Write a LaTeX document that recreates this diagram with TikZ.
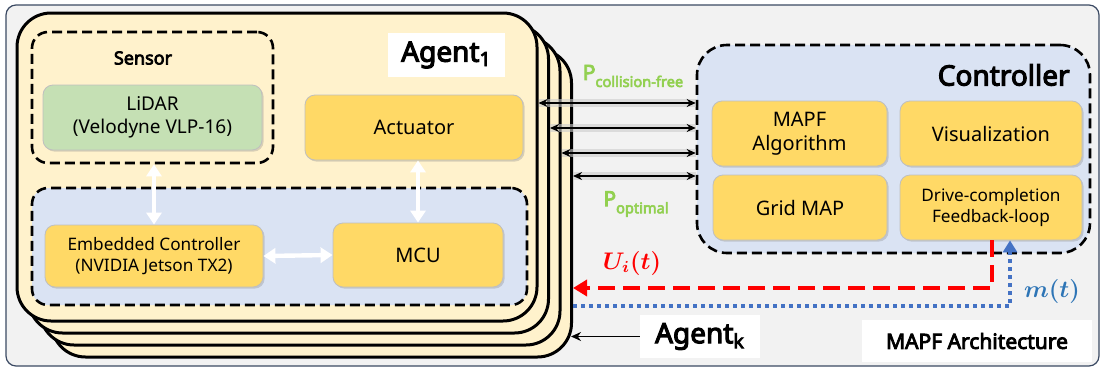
\documentclass[tikz,border=0pt]{standalone}
\usepackage{fontspec}
\setmainfont{Noto Sans}[AutoFakeBold=4]
\usepackage{bm}
\usepackage{tikz}
\usetikzlibrary{arrows.meta,shadows,positioning,calc}

\definecolor{bgfill}{HTML}{F2F2F2}
\definecolor{bgline}{HTML}{3B4A63}
\definecolor{cardfill}{HTML}{FFF2CC}
\definecolor{unitfill}{HTML}{FFD966}
\definecolor{lidarfill}{HTML}{C5E0B4}
\definecolor{zonefill}{HTML}{DAE3F3}
\definecolor{pgreen}{HTML}{92D050}
\definecolor{ured}{HTML}{FF0000}
\definecolor{mblue}{HTML}{4472C4}
\definecolor{mtext}{HTML}{2E75B6}

\newcommand{\lowtext}[2]{\raisebox{-#1}{\fontsize{7.3}{8}\selectfont #2}}

\begin{document}
\begin{tikzpicture}[x=0.5pt,y=-0.5pt,inner sep=0pt,
  card/.style={draw=black,line width=1.5pt,fill=cardfill,rounded corners=17pt,
    minimum width=260pt,minimum height=154pt},
  zone/.style={draw=black,line width=1.3pt,dash pattern=on 5pt off 2.5pt,rounded corners=8pt},
  unit/.style={draw=black!25,fill=unitfill,rounded corners=5pt,align=center,
    drop shadow={shadow xshift=0.8pt,shadow yshift=-0.8pt,opacity=0.3},
    font=\fontsize{10}{12}\selectfont},
  small/.style={font=\fontsize{8.6}{10.5}\selectfont},
  tag/.style={fill=white,font=\bfseries\fontsize{14}{15}\selectfont},
  whitearrow/.style={draw=white,line width=2.2pt,{Triangle[length=6pt,width=7.5pt]}-{Triangle[length=6pt,width=7.5pt]}},
  halo/.style={draw=black!20,line width=4pt,opacity=0.6},
  biarrow/.style={draw=black,line width=1pt,{Stealth[length=4.5pt,width=4pt]}-{Stealth[length=4.5pt,width=4pt]}},
  plabel/.style={text=pgreen,font=\bfseries\fontsize{10.5}{12}\selectfont}]
\useasboundingbox (0,0) rectangle (1104,370);
\draw[fill=bgfill,draw=bgline,line width=0.6pt,rounded corners=5pt] (6,5) rectangle (1099,366);

\foreach \k in {3,2,1,0}
  \node[card] (card\k) at ({277+11.5*\k},{167+12*\k}) {};

\node[zone,minimum width=120.5pt,minimum height=65.5pt] (sensor) at (152.5,97.5) {};
\node[zone,fill=zonefill,minimum width=247.5pt,minimum height=58.5pt] (onboard) at (279.5,246.5) {};
\node[font=\bfseries\fontsize{9}{10}\selectfont] (sensorlbl) at (143,58) {Sensor};
\node[tag,minimum width=58.5pt,minimum height=22pt] (agent1) at (446.5,55) {Agent\textsubscript{1}};

\node[unit,fill=lidarfill,minimum width=109.5pt,minimum height=32.5pt,font=\fontsize{9.5}{11.5}\selectfont] (lidar) at (152.5,117.5) {LiDAR\\(Velodyne VLP-16)};
\node[unit,minimum width=109pt,minimum height=32.5pt] (act) at (414,127.5) {Actuator};
\node[unit,small,minimum width=109pt,minimum height=31pt] (emb) at (154,256) {Embedded Controller\\(NVIDIA Jetson TX2)};
\node[unit,minimum width=85pt,minimum height=32pt] (mcu) at (418,255) {MCU};

\draw[whitearrow] (sensor.south -| emb.north) -- (emb.north);
\draw[whitearrow] (act.south -| mcu.north) -- (mcu.north);
\draw[whitearrow] (emb.east) -- (mcu.west);

\node[zone,fill=zonefill,rounded corners=15pt,minimum width=196.5pt,minimum height=104pt] (ctrl) at (893.5,149) {};
\node[anchor=east,font=\bfseries\fontsize{14}{15}\selectfont] (ctrllbl) at (1070,75) {Controller};
\node[unit,minimum width=87.5pt,minimum height=32.5pt] (alg) at (799.5,133.5) {MAPF\\Algorithm};
\node[unit,minimum width=91pt,minimum height=32.5pt] (vis) at (991,133.5) {Visualization};
\node[unit,minimum width=87pt,minimum height=32.5pt] (grid) at (800,207.5) {Grid MAP};
\node[unit,small,minimum width=91pt,minimum height=32.5pt] (drive) at (991,207.5) {Drive-completion\\Feedback-loop};

\foreach \k/\y in {0/103,1/128,2/153,3/176} {
  \coordinate (lev\k) at (0,\y);
  \draw[halo] (card\k.east |- lev\k) -- (ctrl.west |- lev\k);
  \draw[biarrow] (card\k.east |- lev\k) -- (ctrl.west |- lev\k);
}
\node[plabel] (pcoll) at (633,76) {P\lowtext{3.5pt}{collision-free}};
\node[plabel] (popt) at (636,204) {P\lowtext{3.5pt}{optimal}};

\coordinate (ulev) at (0,288);
\coordinate (mlev) at (0,306);
\draw[ured,line width=2pt,dash pattern=on 8.5pt off 4pt,-{Triangle[length=7pt,width=8pt]}]
  ([xshift=0.5pt]drive.south) |- (card3.east |- ulev);
\draw[mblue,line width=1.6pt,dash pattern=on 2pt off 2pt,-{Triangle[length=6pt,width=7pt]}]
  (card3.east |- mlev) -| ([xshift=9.5pt]drive.south);
\node[text=ured,font=\fontsize{11.5}{12}\selectfont] (ulbl) at (632,263) {$\bm{U_i(t)}$};
\node[text=mtext,font=\fontsize{11.5}{12}\selectfont] (mlbl) at (1052,291) {$\bm{m(t)}$};

\node[tag,minimum width=60pt,minimum height=21.5pt] (agentk) at (700,336.5) {Agent\textsubscript{k}};
\draw[line width=0.8pt,-{Stealth[length=5pt,width=4.5pt]}] (agentk.west) -- ([xshift=-1pt]card3.east |- agentk.west);
\node[fill=white,minimum width=115pt,minimum height=21pt,font=\bfseries\fontsize{10.5}{12}\selectfont] (arch) at (977,341) {MAPF Architecture};
\end{tikzpicture}
\end{document}
